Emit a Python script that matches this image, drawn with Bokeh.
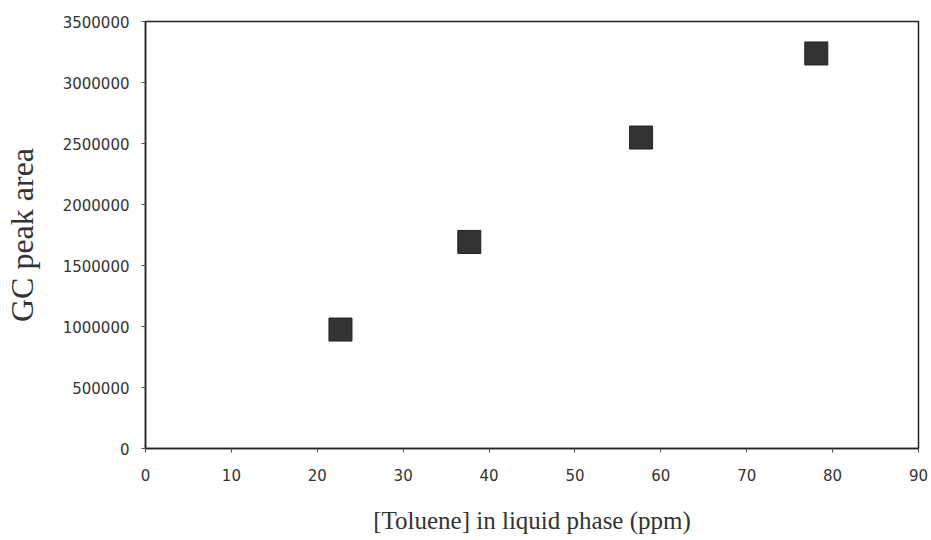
from bokeh.plotting import figure
from bokeh.models import Range1d, FixedTicker, NumeralTickFormatter
from bokeh.embed import file_html
from bokeh.resources import INLINE

toluene_ppm = [22.7, 37.7, 57.7, 78.1]
gc_peak_area = [975000, 1693000, 2549000, 3238000]
x_ticks = [0, 10, 20, 30, 40, 50, 60, 70, 80, 90]
y_ticks = [0, 500000, 1000000, 1500000, 2000000, 2500000, 3000000, 3500000]

p = figure(width=931, height=540, output_backend="svg", toolbar_location=None,
           x_range=Range1d(0, 90), y_range=Range1d(0, 3500000),
           min_border_left=144, min_border_right=13, min_border_top=21, min_border_bottom=92)

p.background_fill_color = "white"
p.border_fill_color = "white"
p.outline_line_color = "#222222"
p.outline_line_width = 1.5
p.xgrid.visible = False
p.ygrid.visible = False

p.scatter(toluene_ppm, gc_peak_area, marker="square", size=23,
          fill_color="#333333", line_color="#222222", line_width=1)

p.xaxis.ticker = FixedTicker(ticks=x_ticks)
p.yaxis.ticker = FixedTicker(ticks=y_ticks)
p.yaxis.formatter = NumeralTickFormatter(format="0")

for ax in (p.xaxis[0], p.yaxis[0]):
    ax.axis_line_color = "#222222"
    ax.axis_line_width = 1.5
    ax.major_tick_line_color = "#555555"
    ax.major_tick_out = 4
    ax.major_tick_in = 0
    ax.minor_tick_line_color = None
    ax.major_label_text_font = "DejaVu Sans"
    ax.major_label_text_font_size = "15px"
    ax.major_label_text_color = "#333333"
    ax.axis_label_text_font = "Liberation Serif"
    ax.axis_label_text_font_style = "normal"
    ax.axis_label_text_color = "#333333"

p.xaxis.axis_label = "[Toluene] in liquid phase (ppm)"
p.yaxis.axis_label = "GC peak area"
p.xaxis.axis_label_text_font_size = "25px"
p.yaxis.axis_label_text_font_size = "32px"
p.xaxis.major_label_standoff = 16
p.yaxis.major_label_standoff = 12
p.xaxis.axis_label_standoff = 23
p.yaxis.axis_label_standoff = 20

open("out.html", "w").write(file_html(p, INLINE))
